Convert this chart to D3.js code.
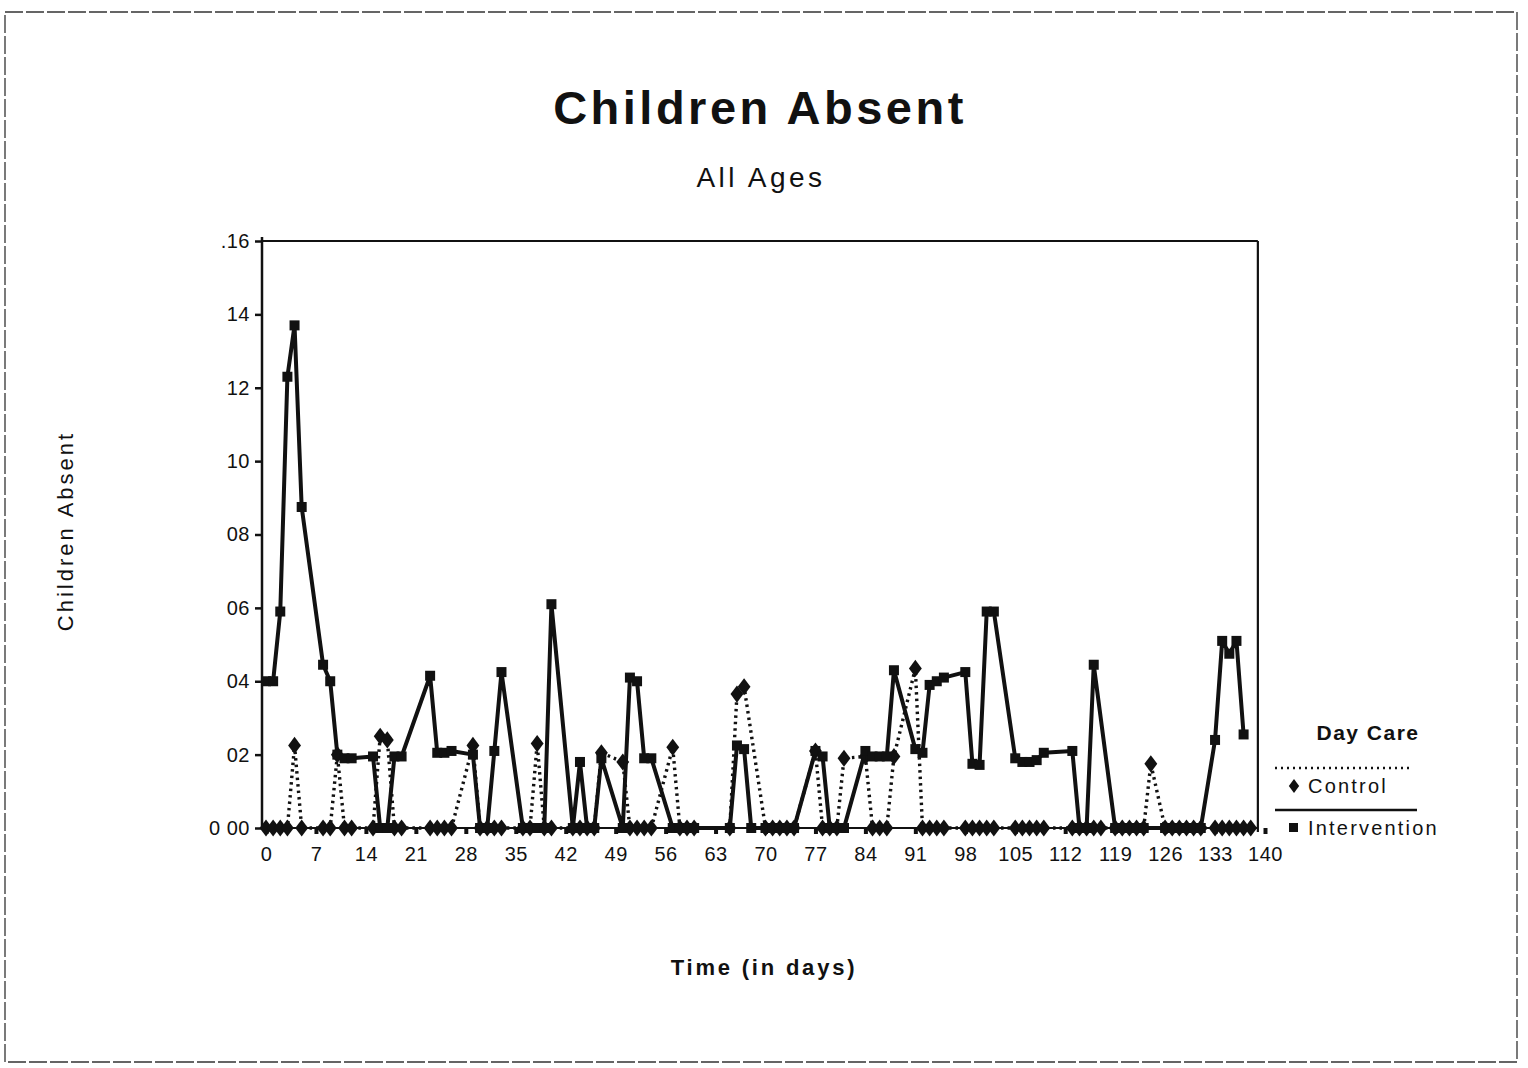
<!DOCTYPE html>
<html>
<head>
<meta charset="utf-8">
<script src="https://cdn.jsdelivr.net/npm/d3@7"></script>
<style>
  html, body { margin: 0; padding: 0; background: #fff; }
  svg { display: block; }
  text { font-family: "Liberation Sans", Arial, Helvetica, sans-serif; fill: #111; }
</style>
</head>
<body>
<svg id="chart" width="1528" height="1068"></svg>
<script>
// ---- data ----
const title = "Children Absent";
const subtitle = "All Ages";
const yTitle = "Children Absent";
const xTitle = "Time (in days)";
const legendTitle = "Day Care";
const seriesNames = ["Control", "Intervention"];

const xTickValues = d3.range(0, 141, 7);
const yTickValues = [0.16, 0.14, 0.12, 0.10, 0.08, 0.06, 0.04, 0.02, 0];
const yTickLabels = [".16", "14", "12", "10", "08", "06", "04", "02", "0 00"];

const controlDays = [0,1,2,3,4,5, 8,9,10,11,12, 15,16,17,18,19, 23,24,25,26, 29,30,31,32,33,
  36,37,38,39,40, 43,44,45,46,47, 50,51,52,53,54, 57,58,59,60, 65,66,67, 70,71,72,73,74,
  77,78,79,80,81, 84,85,86,87,88, 91,92,93,94,95, 98,99,100,101,102, 105,106,107,108,109,
  113,114,115,116,117, 119,120,121,122,123,124, 126,127,128,129,130,131, 133,134,135,136,137,138];
const controlValues = [0,0,0,0,0.0225,0, 0,0,0.020,0,0, 0,0.025,0.024,0,0, 0,0,0,0, 0.0225,0,0,0,0,
  0,0,0.023,0,0, 0,0,0,0,0.0205, 0.018,0,0,0,0, 0.022,0,0,0, 0,0.0365,0.0385, 0,0,0,0,0,
  0.021,0,0,0,0.019, 0.0195,0,0,0,0.0195, 0.0435,0,0,0,0, 0,0,0,0,0, 0,0,0,0,0,
  0,0,0,0,0, 0,0,0,0,0,0.0175, 0,0,0,0,0,0, 0,0,0,0,0,0];

const interventionDays = [0,1,2,3,4,5, 8,9,10,11,12, 15,16,17,18,19, 23,24,25,26, 29,30,31,32,33,
  36,37,38,39,40, 43,44,45,46,47, 50,51,52,53,54, 57,58,59,60, 65,66,67,68, 70,71,72,73,74,
  77,78,79,80,81, 84,85,86,87,88, 91,92,93,94,95, 98,99,100,101,102, 105,106,107,108,109,
  113,114,115,116, 119,120,121,122,123, 126,127,128,129,130,131, 133,134,135,136,137];
const interventionValues = [0.040,0.040,0.059,0.123,0.137,0.0875, 0.0445,0.040,0.020,0.019,0.019,
  0.0195,0,0,0.0195,0.0195, 0.0415,0.0205,0.0205,0.021, 0.020,0,0,0.021,0.0425,
  0,0,0,0,0.061, 0,0.018,0,0,0.019, 0,0.041,0.040,0.019,0.019, 0,0,0,0,
  0,0.0225,0.0215,0, 0,0,0,0,0, 0.021,0.0195,0,0,0, 0.021,0.0195,0.0195,0.0195,0.043,
  0.0215,0.0205,0.039,0.040,0.041, 0.0425,0.0175,0.0172,0.059,0.059,
  0.019,0.018,0.018,0.0185,0.0205, 0.021,0,0,0.0445, 0,0,0,0,0, 0,0,0,0,0,0,
  0.024,0.051,0.0475,0.051,0.0255];

// ---- chart ----
const svg = d3.select("#chart");
const x = d3.scaleLinear().domain([0, 140]).range([266, 1265]);
const y = d3.scaleLinear().domain([0, 0.16]).range([828, 241]);
const plotLeft = 262, plotRight = x(139), plotTop = y(0.16), plotBottom = y(0);

// page border
svg.append("rect").attr("x", 5).attr("y", 12).attr("width", 1512).attr("height", 1050)
  .attr("fill", "none").attr("stroke", "#333").attr("stroke-width", 1.3)
  .attr("stroke-dasharray", "18,3");

// titles
svg.append("text").attr("x", 760).attr("y", 124).attr("text-anchor", "middle")
  .attr("font-size", 47).attr("font-weight", "bold").attr("letter-spacing", 3.5).text(title);
svg.append("text").attr("x", 761).attr("y", 187).attr("text-anchor", "middle")
  .attr("font-size", 28).attr("letter-spacing", 3.5).text(subtitle);

// frame
const frame = svg.append("g").attr("stroke", "#111").attr("fill", "none");
frame.append("line").attr("x1", plotLeft).attr("x2", plotLeft).attr("y1", plotTop - 4).attr("y2", plotBottom).attr("stroke-width", 2.5);
frame.append("line").attr("x1", plotLeft).attr("x2", plotRight).attr("y1", plotTop).attr("y2", plotTop).attr("stroke-width", 1.8);
frame.append("line").attr("x1", plotRight).attr("x2", plotRight).attr("y1", plotTop).attr("y2", plotBottom + 4).attr("stroke-width", 2.2);
frame.append("line").attr("x1", plotLeft).attr("x2", plotRight).attr("y1", plotBottom).attr("y2", plotBottom).attr("stroke-width", 2);

// y axis
const yAxis = d3.axisLeft(y).tickValues(yTickValues).tickSize(7).tickPadding(5)
  .tickFormat((d, i) => yTickLabels[i]);
const gy = svg.append("g").attr("transform", `translate(${plotLeft},0)`).call(yAxis);
gy.select(".domain").remove();
gy.selectAll(".tick line").attr("stroke", "#111").attr("stroke-width", 2.5);
gy.selectAll(".tick text").attr("font-size", 20).attr("letter-spacing", 0.5)
  .style("font-family", "'Liberation Sans', Arial, sans-serif").attr("fill", "#111");

// x axis
const xAxis = d3.axisBottom(x).tickValues(xTickValues).tickSize(6).tickPadding(13).tickFormat(d => d);
const gx = svg.append("g").attr("transform", `translate(0,${plotBottom})`).call(xAxis);
gx.select(".domain").remove();
gx.selectAll(".tick line").attr("stroke", "#111").attr("stroke-width", 4);
gx.selectAll(".tick text").attr("font-size", 20).attr("letter-spacing", 0.5)
  .style("font-family", "'Liberation Sans', Arial, sans-serif").attr("fill", "#111");

// axis titles
svg.append("text").attr("transform", "translate(73,531) rotate(-90)").attr("text-anchor", "middle")
  .attr("font-size", 22).attr("letter-spacing", 3).text(yTitle);
svg.append("text").attr("x", 764).attr("y", 975).attr("text-anchor", "middle")
  .attr("font-size", 22).attr("font-weight", "bold").attr("letter-spacing", 2.8).text(xTitle);

// series
const control = controlDays.map((d, i) => ({ d, v: controlValues[i] }));
const intervention = interventionDays.map((d, i) => ({ d, v: interventionValues[i] }));
const line = d3.line().x(p => x(p.d)).y(p => y(p.v));

svg.append("path").datum(control).attr("d", line).attr("fill", "none")
  .attr("stroke", "#111").attr("stroke-width", 3.4).attr("stroke-dasharray", "2.5,4");
const diamond = d3.symbol().type(d3.symbolDiamond).size(85);
svg.append("g").selectAll("path").data(control).join("path")
  .attr("d", diamond).attr("transform", p => `translate(${x(p.d)},${y(p.v)}) scale(1.3,1)`)
  .attr("fill", "#111");

svg.append("path").datum(intervention).attr("d", line).attr("fill", "none")
  .attr("stroke", "#111").attr("stroke-width", 4).attr("stroke-linejoin", "round");
svg.append("g").selectAll("rect").data(intervention).join("rect")
  .attr("x", p => x(p.d) - 5).attr("y", p => y(p.v) - 5).attr("width", 10).attr("height", 10)
  .attr("fill", "#111");

// legend
const lg = svg.append("g");
lg.append("text").attr("x", 1368).attr("y", 740).attr("text-anchor", "middle")
  .attr("font-size", 21).attr("font-weight", "bold").attr("letter-spacing", 1.5).text(legendTitle);
lg.append("line").attr("x1", 1275).attr("x2", 1413).attr("y1", 768).attr("y2", 768)
  .attr("stroke", "#111").attr("stroke-width", 2.5).attr("stroke-dasharray", "2,4");
lg.append("path").attr("d", d3.symbol().type(d3.symbolDiamond).size(55))
  .attr("transform", "translate(1294,786) scale(1.3,1)").attr("fill", "#111");
lg.append("text").attr("x", 1308).attr("y", 793).attr("font-size", 20).attr("letter-spacing", 2.2).text(seriesNames[0]);
lg.append("line").attr("x1", 1275).attr("x2", 1417).attr("y1", 810).attr("y2", 810)
  .attr("stroke", "#111").attr("stroke-width", 2.5);
lg.append("rect").attr("x", 1289).attr("y", 823).attr("width", 9).attr("height", 9).attr("fill", "#111");
lg.append("text").attr("x", 1308).attr("y", 835).attr("font-size", 20).attr("letter-spacing", 2.2).text(seriesNames[1]);
</script>
</body>
</html>
